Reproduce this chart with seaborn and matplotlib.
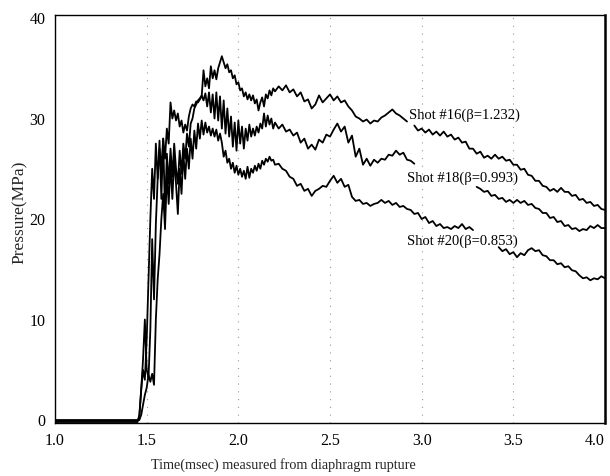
import numpy as np
import pandas as pd
import matplotlib
matplotlib.use("Agg")
import matplotlib.pyplot as plt
import seaborn as sns

# ================================
# Data
# ================================

# baseline before the rise (all three shots sit at zero)
t_base = [1.00, 1.45]

# shared sample times for the rise / peak region
t_rise = [
    1.46, 1.47, 1.48, 1.49, 1.50, 1.51, 1.52, 1.53, 1.54, 1.55,
    1.56, 1.57, 1.58, 1.59, 1.60, 1.61, 1.62, 1.63, 1.64, 1.65,
    1.66, 1.67, 1.68, 1.69, 1.70, 1.71, 1.72, 1.73, 1.74, 1.75,
    1.76, 1.77, 1.78, 1.79, 1.80, 1.81, 1.82, 1.83, 1.84, 1.85,
    1.86, 1.87, 1.88, 1.89, 1.90, 1.91, 1.92, 1.93, 1.94, 1.95,
    1.96, 1.97, 1.98, 1.99, 2.00, 2.01, 2.02, 2.03, 2.04, 2.05,
    2.06, 2.07, 2.08, 2.09, 2.10, 2.11, 2.12, 2.13, 2.14, 2.15,
    2.16, 2.17, 2.18, 2.19, 2.20,
]

# sample times for the middle part (before the labels)
t_mid = [
    2.22, 2.24, 2.26, 2.28, 2.30, 2.32, 2.34, 2.36, 2.38, 2.40,
    2.42, 2.44, 2.46, 2.48, 2.50, 2.52, 2.54, 2.56, 2.58, 2.60,
    2.62, 2.64, 2.66, 2.68, 2.70, 2.72, 2.74, 2.76, 2.78, 2.80,
    2.82, 2.84, 2.86, 2.88, 2.90, 2.92, 2.94, 2.96, 2.98, 3.00,
    3.02, 3.04, 3.06, 3.08, 3.10, 3.12, 3.14, 3.16, 3.18, 3.20,
    3.22, 3.24, 3.26, 3.28,
]

# sample times for the tails (after the labels)
t_tail = [
    2.96, 2.98, 3.00, 3.02, 3.04, 3.06, 3.08, 3.10, 3.12, 3.14,
    3.16, 3.18, 3.20, 3.22, 3.24, 3.26, 3.28, 3.30, 3.32, 3.34,
    3.36, 3.38, 3.40, 3.42, 3.44, 3.46, 3.48, 3.50, 3.52, 3.54,
    3.56, 3.58, 3.60, 3.62, 3.64, 3.66, 3.68, 3.70, 3.72, 3.74,
    3.76, 3.78, 3.80, 3.82, 3.84, 3.86, 3.88, 3.90, 3.92, 3.94,
    3.96, 3.98, 4.00,
]

# Shot #16 (beta = 1.232)
p16_base = [-0.2, -0.2]
p16_rise = [
    0.5, 3.0, 5.0, 4.0, 8.0, 14.0, 20.0, 25.0, 22.0, 27.5,
    24.0, 27.0, 25.0, 28.0, 26.0, 29.0, 27.5, 31.6, 30.0, 30.8,
    29.8, 30.5, 29.2, 29.8, 28.6, 29.4, 28.8, 30.2, 31.0, 31.4,
    31.2, 31.7, 31.6, 31.9, 32.2, 34.8, 33.2, 34.0, 33.0, 35.2,
    34.0, 34.8, 33.9, 35.0, 35.6, 36.2, 35.6, 35.0, 35.4, 34.6,
    34.8, 34.0, 34.3, 33.4, 33.6, 32.8, 33.0, 32.2, 32.6, 31.9,
    32.4, 31.8, 32.3, 31.5, 31.9, 30.8, 31.6, 32.1, 31.2, 32.4,
    32.0, 32.8, 32.3, 33.0, 32.7,
]
p16_mid = [
    33.2, 32.8, 33.3, 32.6, 32.9, 32.2, 32.6, 31.7, 31.9, 31.0,
    31.4, 32.3, 31.6, 32.0, 32.4, 31.8, 32.2, 31.6, 31.8, 31.2,
    30.8, 30.2, 30.0, 29.7, 29.9, 29.5, 29.8, 29.7, 30.1, 30.3,
    30.6, 30.9, 30.5, 30.3, 30.0, 29.7,
]
p16_tail = [
    29.3, 28.8, 29.0, 28.6, 28.9, 28.4, 28.7, 28.3, 28.7, 28.2,
    28.4, 27.9, 28.1, 27.6, 27.7, 27.0, 27.0, 26.5, 26.7, 26.1,
    26.3, 26.0, 26.4, 26.0, 26.2, 25.8, 25.9, 25.4, 25.4, 24.9,
    25.0, 24.4, 24.3, 23.8, 23.8, 23.3, 23.2, 22.8, 23.0, 22.7,
    23.1, 22.7, 22.7, 22.3, 22.4, 21.9, 22.0, 21.6, 21.7, 21.3,
    21.4, 21.0, 20.9,
]

# Shot #18 (beta = 0.993)
p18_base = [-0.1, -0.1]
p18_rise = [
    0.3, 3.0, 6.0, 10.0, 5.0, 4.2, 9.0, 18.0, 12.0, 19.5,
    24.0, 27.8, 22.0, 28.0, 20.5, 26.5, 23.5, 27.0, 24.2, 27.5,
    25.0, 23.5, 26.8, 24.5, 27.5, 26.0, 28.5, 27.2, 29.5, 30.0,
    31.0, 31.4, 31.8, 32.0, 32.3, 31.8, 32.5, 31.2, 32.6, 30.6,
    32.4, 30.0, 32.6, 29.8, 32.2, 29.0, 31.8, 28.5, 31.0, 28.2,
    30.2, 27.2, 29.6, 26.8, 29.8, 27.5, 29.2, 27.0, 29.0, 27.8,
    29.4, 28.2, 29.0, 28.3, 29.2, 28.6, 29.5, 29.0, 30.5, 29.2,
    30.3, 29.4, 30.0, 29.0, 29.6,
]
p18_mid = [
    29.0, 29.4, 28.7, 28.9, 28.3, 28.6, 27.6, 28.0, 27.0, 27.4,
    26.9, 27.9, 27.6, 28.4, 28.2, 28.9, 29.5, 28.7, 29.2, 27.6,
    28.3, 26.2, 27.0, 25.4, 26.0, 25.3, 25.9, 25.6, 26.0, 25.9,
    26.4, 26.3, 26.8, 26.4, 26.6, 25.9, 25.8, 25.5,
]
p18_tail = [
    23.2, 23.0, 22.7, 22.8, 22.3, 22.4, 22.0, 22.1, 21.7, 21.9,
    21.6, 21.9, 21.6, 21.8, 21.4, 21.5, 21.1, 21.0, 20.6, 20.6,
    20.1, 20.2, 19.7, 19.8, 19.3, 19.4, 19.0, 19.1, 18.8, 19.0,
    18.9, 19.3, 19.1, 19.4, 19.1, 19.1,
]

# Shot #20 (beta = 0.853)
p20_base = [0.0, 0.0]
p20_rise = [
    0.0, 0.5, 1.5, 2.5, 3.2, 4.5, 3.8, 4.6, 3.5, 10.0,
    14.0, 16.5, 20.0, 22.5, 19.0, 24.5, 21.5, 25.5, 22.0, 26.0,
    23.5, 20.5, 25.0, 22.5, 26.5, 24.0, 27.0, 25.0, 28.0, 26.0,
    28.8, 27.0, 29.5, 28.0, 29.8, 28.4, 29.6, 28.6, 29.2, 28.3,
    29.0, 28.2, 28.9, 27.8, 28.5, 27.6, 26.2, 26.8, 25.6, 26.0,
    25.0, 25.6, 24.6, 25.3, 24.4, 25.0, 24.2, 24.8, 24.0, 25.2,
    24.1, 25.0, 24.6, 25.3, 24.8, 25.5, 25.0, 25.8, 25.4, 26.0,
    25.7, 26.2, 25.8, 25.9, 25.4,
]
p20_mid = [
    25.5, 25.0, 24.8, 24.2, 24.0, 23.3, 23.5, 22.8, 23.0, 22.3,
    22.8, 23.0, 23.3, 23.2, 23.8, 24.3, 23.6, 24.0, 23.2, 23.4,
    22.2, 21.8, 21.9, 21.5, 21.6, 21.3, 21.5, 21.6, 21.9, 21.6,
    21.8, 21.4, 21.6, 21.2, 21.3, 21.0, 20.9, 20.5, 20.6, 20.0,
    20.2, 19.6, 19.8, 19.3, 19.5, 19.1, 19.2, 19.0, 19.3, 19.1,
    19.5, 19.0, 19.2, 18.9,
]
p20_tail = [
    17.2, 16.8, 17.0, 16.5, 16.7, 16.2, 16.6, 16.4, 16.9, 17.1,
    16.8, 16.9, 16.4, 16.3, 15.9, 15.9, 15.5, 15.6, 15.2, 15.3,
    14.9, 14.8, 14.4, 14.1, 14.2, 13.9, 14.1, 14.0, 14.3, 14.1,
]

labels = ["Shot #16(β=1.232)", "Shot #18(β=0.993)", "Shot #20(β=0.853)"]
label_t = [2.93, 2.92, 2.92]
label_p = [30.3, 24.1, 17.8]

x_ticks = [1.0, 1.5, 2.0, 2.5, 3.0, 3.5, 4.0]
x_ticklabels = ["1.0", "1.5", "2.0", "2.5", "3.0", "3.5", "4.0"]
y_ticks = [0, 10, 20, 30, 40]

# ================================
# Build long-form table
# ================================

segments = [
    ("16a", t_base + t_rise + t_mid[:len(p16_mid)], p16_base + p16_rise + p16_mid),
    ("16b", t_tail, p16_tail),
    ("18a", t_base + t_rise + t_mid[:len(p18_mid)], p18_base + p18_rise + p18_mid),
    ("18b", t_tail[-len(p18_tail):], p18_tail),
    ("20a", t_base + t_rise + t_mid, p20_base + p20_rise + p20_mid),
    ("20b", t_tail[-len(p20_tail):], p20_tail),
]

frames = []
for seg, t, p in segments:
    frames.append(pd.DataFrame({"t": t, "p": p, "seg": seg}))
df = pd.concat(frames, ignore_index=True)

# ================================
# Plot
# ================================

sns.set_theme(style="white")
plt.rcParams["font.family"] = ["Liberation Serif", "DejaVu Serif"]

fig = plt.figure(figsize=(6.1, 4.76), dpi=100)
ax = fig.add_axes([0.0902, 0.1113, 0.9016, 0.8572])

sns.lineplot(
    data=df,
    x="t",
    y="p",
    units="seg",
    estimator=None,
    sort=False,
    color="black",
    lw=1.3,
    ax=ax,
)

for txt, tx, py in zip(labels, label_t, label_p):
    ax.text(tx, py, txt, ha="left", va="center", fontsize=10.5, color="black")

ax.set_xlim(1.0, 4.0)
ax.set_ylim(-0.3, 40.3)
ax.set_xticks(x_ticks)
ax.set_xticklabels(x_ticklabels)
ax.set_yticks(y_ticks)
ax.set_xlabel("")
ax.set_ylabel("")
ax.tick_params(axis="both", length=0, pad=7, labelsize=11.5, labelcolor="black")

# last x tick label sits at the right edge: keep it inside the figure
ax.get_xticklabels()[-1].set_horizontalalignment("right")

ax.grid(axis="x", color="0.6", linestyle=(0, (1, 6)), lw=0.8)
ax.grid(axis="y", visible=False)

for side in ["left", "bottom", "top"]:
    ax.spines[side].set_color("black")
    ax.spines[side].set_linewidth(1.0)
ax.spines["right"].set_color("black")
ax.spines["right"].set_linewidth(1.8)

fig.text(0.464, 0.023, "Time(msec) measured from diaphragm rupture",
         ha="center", va="center", fontsize=10.2)
fig.text(0.033, 0.553, "Pressure(MPa)", rotation=90,
         ha="center", va="center", fontsize=12.5)

fig.savefig("out.png", dpi=100)
